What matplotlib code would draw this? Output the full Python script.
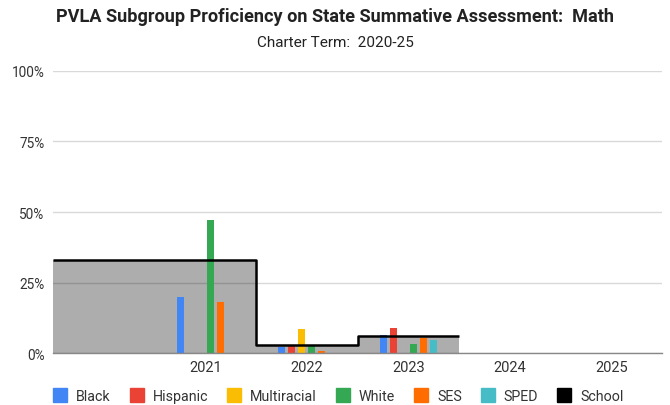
import numpy as np
import matplotlib.pyplot as plt
from matplotlib.lines import Line2D

plt.rcParams["font.family"] = ["Roboto", "DejaVu Sans"]

# ── Data ──────────────────────────────────────────────────────────────────────
years = ["", "2021", "2022", "2023", "2024", "2025"]

black       = [None, 20, 2, 6.5, None, None]
hispanic    = [None, None, 2.5, 9, None, None]
multiracial = [None, None, 8.5, None, None, None]
white       = [None, 47, 2.5, 3.2, None, None]
ses         = [None, 18, 0.8, 5.2, None, None]
sped        = [None, None, None, 4.5, None, None]
school      = [33, 33, 3, 6]

series = [
    ("Black",       black,       "#4285F4"),
    ("Hispanic",    hispanic,    "#EA4335"),
    ("Multiracial", multiracial, "#FBBC04"),
    ("White",       white,       "#34A853"),
    ("SES",         ses,         "#FF6D01"),
    ("SPED",        sped,        "#46BDC6"),
]

# ── Figure ────────────────────────────────────────────────────────────────────
fig = plt.figure(figsize=(6.7, 4.06), dpi=100)
ax = fig.add_axes([0.0791, 0.128, 0.909, 0.6947])

x = np.arange(len(years))
ax.set_xlim(-0.5, len(years) - 0.5)
ax.set_ylim(0, 100)

# gridlines
ax.set_yticks([0, 25, 50, 75, 100])
ax.set_yticklabels(["0%", "25%", "50%", "75%", "100%"])
ax.grid(axis="y", color="#d9d9d9", linewidth=1.0, zorder=0)
ax.set_axisbelow(True)

# school stepped area
edges = np.arange(len(school) + 1) - 0.5
ax.stairs(school, edges, fill=True, color="black", alpha=0.32, linewidth=0, zorder=1)
line = ax.stairs(school, edges, baseline=None, color="black", linewidth=1.8, zorder=4)
line.set_joinstyle("round")
line.set_capstyle("butt")

# subgroup bars
step = 0.0985
bw = 0.069
n = len(series)
for k, (name, vals, col) in enumerate(series):
    off = (k - (n - 1) / 2) * step
    for i, v in enumerate(vals):
        if v is None:
            continue
        ax.bar(x[i] + off, v, width=bw, color=col, zorder=3, linewidth=0)

ax.set_xticks(x)
ax.set_xticklabels(years)

for s in ["top", "right", "left"]:
    ax.spines[s].set_visible(False)
ax.spines["bottom"].set_color("#888888")
ax.spines["bottom"].set_linewidth(1.0)
ax.spines["bottom"].set_zorder(5)
ax.tick_params(axis="both", length=0, labelcolor="#333333")
ax.tick_params(axis="y", pad=6, labelsize=9.8)
ax.tick_params(axis="x", pad=5, labelsize=10.5)

fig.text(0.5, 0.958, "PVLA Subgroup Proficiency on State Summative Assessment:  Math",
         ha="center", va="center", fontsize=13.1, fontweight="bold", color="#222222")
fig.text(0.5, 0.895, "Charter Term:  2020-25",
         ha="center", va="center", fontsize=11, color="#222222")

handles = [Line2D([0], [0], marker="s", linestyle="none", markersize=9.5,
                  markerfacecolor=c, markeredgecolor=c, label=nm)
           for nm, _, c in series]
handles.append(Line2D([0], [0], marker="s", linestyle="none", markersize=9.5,
                      markerfacecolor="black", markeredgecolor="black", label="School"))
leg = fig.legend(handles=handles, loc="center", bbox_to_anchor=(0.505, 0.022),
                 ncol=7, frameon=False, fontsize=10.3, handletextpad=0.6,
                 columnspacing=1.33, handlelength=1.0)
for t in leg.get_texts():
    t.set_color("#333333")

fig.savefig("out.png", dpi=100)
